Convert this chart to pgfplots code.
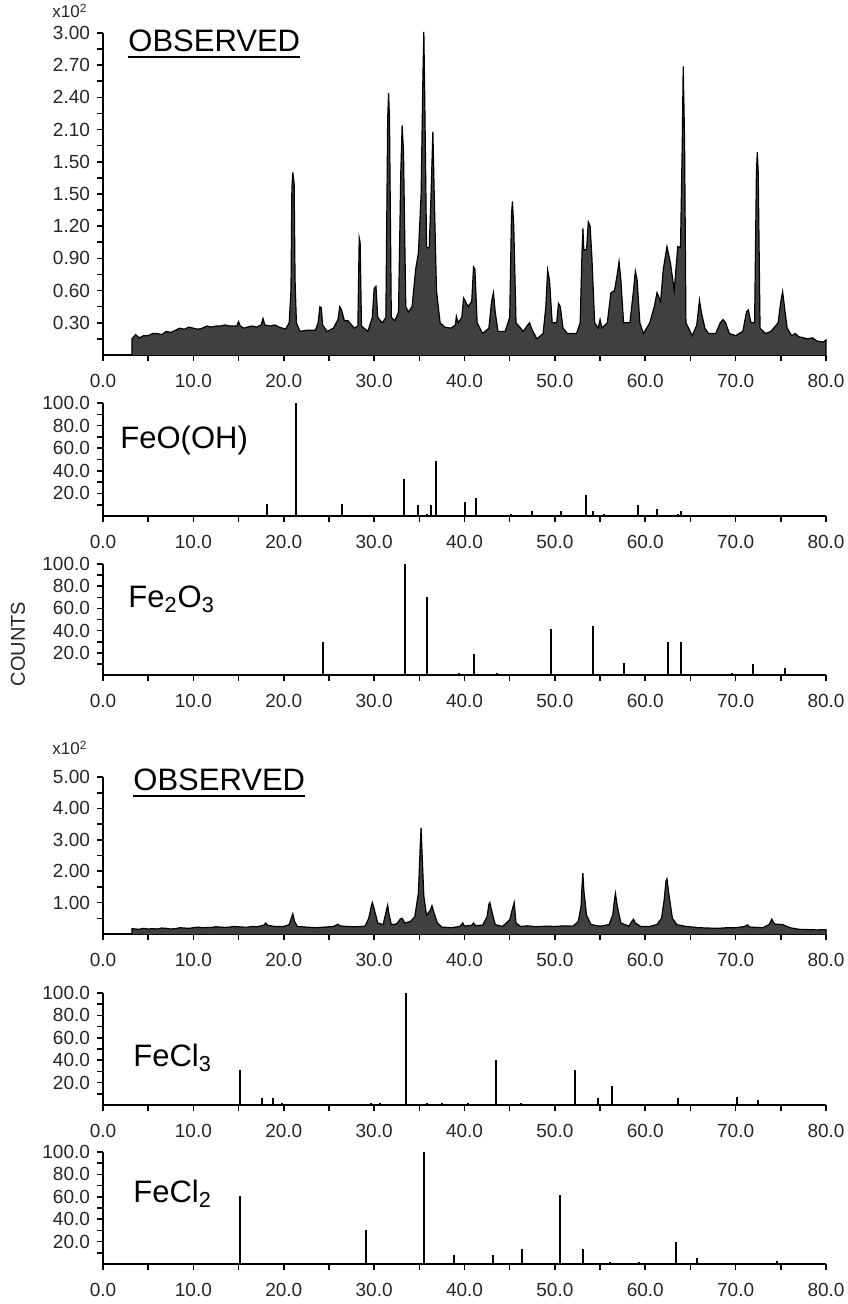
\documentclass[border=0pt]{standalone}
\usepackage{pgfplots}
\pgfplotsset{compat=1.18}
\usepackage{fontspec}
\setmainfont{Liberation Sans}

\newcommand\tickfont{\fontsize{9.5}{10}\selectfont}
\newcommand\namefont{\fontsize{15.5}{16}\selectfont}

\pgfplotsset{
  xrd/.style={
    scale only axis, width=361.5pt, anchor=south west,
    xmin=0, xmax=80, ymin=0,
    axis lines=left, axis line style={-, line width=1pt},
    clip=false,
    tick align=outside, major tick length=3pt, minor tick length=3pt,
    every tick/.style={black, line width=0.8pt},
    xtick={0,10,...,80}, minor xtick={5,15,...,75},
    xticklabels={0.0,10.0,20.0,30.0,40.0,50.0,60.0,70.0,80.0},
    tick label style={font=\tickfont, text=black!85},
    xticklabel style={yshift=-3pt},
  },
  stick/.style={xrd, height=56pt, ymax=100,
    ytick={20,40,60,80,100}, minor ytick={10,30,50,70,90},
    yticklabels={20.0,40.0,60.0,80.0,100.0}},
}

\begin{document}
\begin{tikzpicture}
\path[use as bounding box] (0,0) rectangle (423.5pt,-652pt);

% observed pattern 1
\begin{axis}[xrd, at={(51.5pt,-177.5pt)}, height=161pt, ymax=3,
  ytick={0.3,0.6,...,3.0}, minor ytick={0.15,0.45,...,2.85},
  yticklabels={0.30,0.60,0.90,1.20,1.50,1.50,2.10,2.40,2.70,3.00}]
\addplot[fill=black!75, draw=black, line width=0.6pt] coordinates {
(3.2,0) (3.2,0.15) (3.6,0.19) (4,0.16) (4.5,0.18) (5,0.18) (5.5,0.2) (6,0.2) (6.5,0.19)
(7,0.22) (7.5,0.21) (8,0.23) (8.5,0.25) (9,0.24) (9.5,0.26) (10,0.25) (10.5,0.24)
(11,0.25) (11.5,0.27) (12,0.26) (12.5,0.27) (13,0.27) (13.5,0.28) (14,0.27) (14.8,0.27)
(15.0,0.31) (15.2,0.27) (15.6,0.25) (16,0.26) (16.5,0.27) (17,0.26) (17.5,0.28)
(17.7,0.34) (17.9,0.28) (18.5,0.27) (19,0.28) (19.5,0.26) (20.2,0.24)
(20.6,0.3) (20.8,0.6) (20.9,1.55) (21.0,1.70) (21.15,1.6) (21.25,0.7) (21.4,0.3)
(21.8,0.22) (22.5,0.23) (23.5,0.23) (23.8,0.3) (24.0,0.45) (24.15,0.44) (24.3,0.28)
(24.8,0.22) (25.5,0.25) (26.0,0.33) (26.2,0.45) (26.4,0.42) (26.7,0.32) (27.1,0.32)
(27.3,0.30) (27.8,0.25) (28.2,0.27) (28.35,1.09) (28.45,1.05) (28.6,0.27) (29.3,0.22)
(29.8,0.35) (30.0,0.62) (30.2,0.64) (30.4,0.35) (30.9,0.3) (31.3,0.35) (31.5,2.20)
(31.6,2.44) (31.7,2.20) (31.9,0.35) (32.3,0.32) (32.7,0.4) (32.95,1.7) (33.1,2.14)
(33.25,1.9) (33.5,0.45) (33.8,0.4) (34.2,0.45) (34.6,0.8) (34.9,0.95) (35.2,1.5)
(35.4,2.6) (35.5,3.01) (35.6,2.4) (35.8,1.0) (36.1,1.0) (36.3,1.5) (36.5,2.08)
(36.65,1.5) (36.9,0.6) (37.3,0.3) (37.8,0.26) (38.5,0.25) (39.0,0.28) (39.1,0.36)
(39.3,0.3) (39.7,0.35) (39.9,0.53) (40.1,0.5) (40.4,0.45) (40.8,0.5) (41.0,0.82)
(41.15,0.8) (41.4,0.3) (42.0,0.2) (42.7,0.25) (43.0,0.5) (43.2,0.58) (43.4,0.4)
(43.7,0.22) (44.5,0.22) (45.0,0.35) (45.2,1.3) (45.3,1.43) (45.45,1.2) (45.7,0.3)
(46.5,0.22) (47.0,0.28) (47.2,0.3) (47.4,0.25) (48.0,0.15) (48.7,0.2) (49.0,0.45)
(49.2,0.79) (49.4,0.7) (49.7,0.3) (50.2,0.3) (50.4,0.48) (50.6,0.45) (50.9,0.25)
(51.4,0.2) (52.4,0.2) (52.8,0.3) (53.0,0.95) (53.1,1.18) (53.2,0.98) (53.5,0.98)
(53.7,1.24) (53.9,1.2) (54.1,0.9) (54.4,0.3) (54.8,0.25) (55.0,0.33) (55.2,0.25)
(55.8,0.3) (56.2,0.58) (56.6,0.6) (56.9,0.75) (57.1,0.87) (57.3,0.7) (57.6,0.3)
(58.3,0.3) (58.7,0.6) (58.9,0.78) (59.1,0.7) (59.4,0.3) (59.8,0.2) (60.5,0.3)
(61.0,0.45) (61.3,0.58) (61.7,0.5) (62.0,0.8) (62.4,1.01) (62.8,0.85) (63.2,0.6)
(63.6,1.01) (63.9,1.0) (64.1,2.0) (64.2,2.69) (64.35,2.0) (64.5,0.3) (65.2,0.18)
(65.7,0.28) (66.0,0.51) (66.2,0.4) (66.6,0.25) (67.0,0.2) (67.8,0.2) (68.3,0.3)
(68.6,0.33) (68.9,0.3) (69.3,0.2) (70.0,0.18) (70.8,0.22) (71.2,0.4) (71.4,0.42)
(71.7,0.3) (72.1,0.3) (72.3,1.7) (72.4,1.89) (72.5,1.7) (72.7,0.25) (73.3,0.2)
(73.9,0.22) (74.2,0.25) (74.7,0.3) (75.0,0.5) (75.2,0.59) (75.4,0.45) (75.7,0.25)
(76.2,0.18) (76.6,0.2) (77,0.17) (77.5,0.16) (78,0.15) (78.5,0.16) (79,0.13) (79.7,0.12)
(80,0.14) (80,0)
};
\end{axis}

% FeO(OH)
\begin{axis}[stick, at={(51.5pt,-258pt)}, height=56.5pt]
\addplot[ycomb, black, line width=1pt] coordinates {
(18.1,11) (21.4,100) (26.4,10.4) (33.3,32.6) (34.9,10) (35.8,2) (36.3,10) (36.9,49)
(40.1,12.5) (41.3,16) (45.1,1.5) (47.5,4.5) (50.7,4.5) (53.4,18.4) (54.2,4)
(55.4,1.5) (57.5,1) (59.2,9.5) (61.3,6.5) (63.6,1.5) (64.0,4) (65.5,1) (67.0,1)
(68.4,1) (69.0,1) (71.5,1)
};
\end{axis}

% Fe2O3
\begin{axis}[stick, at={(51.5pt,-337.5pt)}, height=55.5pt]
\addplot[ycomb, black, line width=1pt] coordinates {
(24.3,30) (33.4,100) (35.9,70) (39.4,2) (41.0,19) (43.6,2) (49.6,41) (54.2,44)
(57.6,10.5) (62.5,29.5) (64.0,29.5) (69.6,1.5) (71.9,10) (75.5,6.6) (77.9,1) (78.7,1)
};
\end{axis}

% observed pattern 2
\begin{axis}[xrd, at={(51.5pt,-467pt)}, height=78.5pt, ymax=5,
  ytick={1,2,3,4,5}, minor ytick={0.5,1.5,...,4.5},
  yticklabels={1.00,2.00,3.00,4.00,5.00}]
\addplot[fill=black!75, draw=black, line width=0.6pt] coordinates {
(3.2,0) (3.2,0.17) (4,0.15) (4.5,0.18) (5,0.16) (5.5,0.17) (6,0.16) (6.5,0.19) (7,0.18)
(7.5,0.16) (8,0.17) (8.5,0.2) (9,0.19) (9.5,0.18) (10,0.2) (10.5,0.22) (11,0.2)
(11.5,0.21) (12,0.21) (12.5,0.23) (13,0.22) (13.5,0.21) (14,0.22) (14.5,0.24) (15,0.23)
(15.5,0.22) (16,0.22) (16.5,0.24) (17,0.23) (17.8,0.28)
(18.0,0.35) (18.2,0.28) (19,0.24) (20,0.24) (20.6,0.3) (20.9,0.55) (21.0,0.64)
(21.2,0.4) (21.5,0.24) (22.5,0.22) (23.5,0.2) (24.5,0.22) (25.5,0.24) (26.0,0.31)
(26.2,0.26) (27,0.24) (28,0.23) (29,0.25) (29.4,0.5) (29.7,0.9) (29.8,1.0) (30.0,0.8)
(30.4,0.35) (31.0,0.3) (31.4,0.8) (31.5,0.92) (31.6,0.7) (31.9,0.3) (32.5,0.32)
(32.9,0.48) (33.1,0.5) (33.4,0.35) (34.0,0.4) (34.5,0.55) (34.9,1.3) (35.1,2.8)
(35.2,3.38) (35.3,2.6) (35.5,1.2) (35.8,0.6) (36.2,0.75) (36.4,0.9) (36.6,0.7)
(37.0,0.35) (37.5,0.22) (38.5,0.2) (39.5,0.24) (39.8,0.35) (40.0,0.25) (40.8,0.28)
(41.0,0.35) (41.2,0.27) (42.0,0.28) (42.5,0.55) (42.7,0.95) (42.8,1.0) (43.0,0.75)
(43.4,0.3) (44.2,0.24) (45.0,0.45) (45.3,0.8) (45.5,1.0) (45.7,0.35) (46.2,0.24)
(47,0.26) (48,0.23) (49,0.25) (50,0.24) (51,0.26) (52,0.25) (52.6,0.4) (52.9,0.9)
(53.0,1.5) (53.1,1.94) (53.2,1.4)
(53.5,0.6) (54.0,0.3) (55.0,0.25) (56.0,0.3) (56.4,0.6) (56.6,1.1) (56.7,1.29)
(56.9,0.9) (57.3,0.35) (58.2,0.25) (58.5,0.4) (58.7,0.47) (58.9,0.35) (59.5,0.24)
(60.5,0.24) (61.3,0.3) (61.8,0.5) (62.1,1.1) (62.3,1.7) (62.4,1.76) (62.6,1.3)
(63.0,0.5) (63.5,0.3) (64.5,0.24) (65.3,0.22) (66,0.2) (67,0.19) (68,0.18) (69,0.2)
(70,0.2) (71.0,0.24) (71.3,0.29)
(71.6,0.22) (73,0.2) (73.7,0.3) (74.0,0.47) (74.3,0.32) (75.2,0.3) (76,0.2) (77,0.15)
(78,0.14) (79,0.13) (80,0.14) (80,0)
};
\end{axis}

% FeCl3
\begin{axis}[stick, at={(51.5pt,-552.5pt)}, height=56pt]
\addplot[ycomb, black, line width=1pt] coordinates {
(15.2,31) (17.6,6) (18.8,6.5) (19.8,2) (29.6,2) (30.7,2) (33.5,100) (35.8,2) (37.5,2)
(40.4,2) (43.5,40) (46.3,2) (52.2,31) (54.8,6) (56.3,17.3) (63.6,6.5) (70.1,7) (72.5,4.5)
};
\end{axis}

% FeCl2
\begin{axis}[stick, at={(51.5pt,-632pt)}, height=56pt]
\addplot[ycomb, black, line width=1pt] coordinates {
(15.2,60.7) (29.1,30.5) (35.5,100) (38.8,7.7) (43.2,8.3) (46.4,13.6) (50.6,61.5)
(53.1,13.6) (56.1,1.8) (59.3,1.8) (63.4,19.5) (65.7,5.3) (74.6,2.4)
};
\end{axis}

% labels
\node[font=\fontsize{8.5}{9}\selectfont, text=black!85] at (35pt,-5.5pt) {x10\textsuperscript{2}};
\node[font=\fontsize{8.5}{9}\selectfont, text=black!85] at (35pt,-374pt) {x10\textsuperscript{2}};
\node[anchor=base west, inner sep=0, font=\namefont] at (64pt,-26pt) {OBSERVED};
\draw[line width=1pt] (64pt,-28.5pt) -- (150pt,-28.5pt);
\node[anchor=base west, inner sep=0, font=\namefont] at (66.5pt,-395pt) {OBSERVED};
\draw[line width=1pt] (66.5pt,-398pt) -- (152.5pt,-398pt);
\node[anchor=base west, inner sep=0, font=\namefont] at (60pt,-224pt) {FeO(OH)};
\node[anchor=base west, inner sep=0, font=\namefont] at (64pt,-303.5pt) {Fe\textsubscript{2}O\textsubscript{3}};
\node[anchor=base west, inner sep=0, font=\namefont] at (66.5pt,-533pt) {FeCl\textsubscript{3}};
\node[anchor=base west, inner sep=0, font=\namefont] at (66.5pt,-601pt) {FeCl\textsubscript{2}};
\node[rotate=90, font=\fontsize{10}{11}\selectfont, text=black!85] at (9pt,-322pt) {COUNTS};
\end{tikzpicture}
\end{document}
